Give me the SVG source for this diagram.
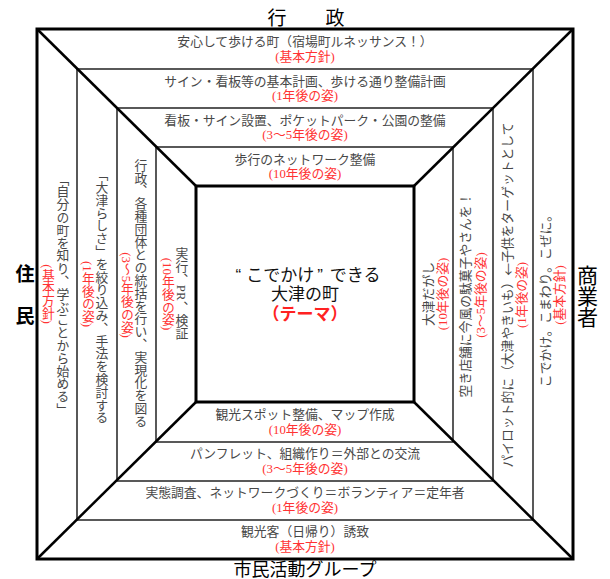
<svg xmlns="http://www.w3.org/2000/svg" width="610" height="579" viewBox="0 0 610 579">
<style>
text { dominant-baseline: central; text-anchor: middle; }
.g { font-family: "Liberation Sans", "Noto Sans CJK JP", sans-serif; font-size: 12.8px; fill: #484848; }
.r { font-family: "Liberation Serif", "Noto Sans CJK JP", serif; font-size: 12.8px; fill: #f33; }
.c { font-family: "Liberation Sans", "Noto Sans CJK JP", sans-serif; font-size: 17px; fill: #111; }
.cr { font-family: "Liberation Sans", "Noto Sans CJK JP", sans-serif; font-size: 17px; fill: #f22; font-weight: bold; }
.t { font-family: "Liberation Sans", "Noto Sans CJK JP", sans-serif; font-size: 19px; fill: #000; }
.v { writing-mode: vertical-rl; }
.cjk { font-family: "Noto Sans CJK JP", sans-serif; }
.lat { font-family: "Liberation Serif", serif; }
.thin { fill: none; stroke: #000; stroke-width: 1.3; }
.thick { fill: none; stroke: #000; stroke-width: 3; }
.diag { stroke: #000; stroke-width: 2.5; }
</style>
<rect width="610" height="579" fill="#fff"/>
<g id="frame">
  <rect class="thin" x="77" y="69" width="456" height="451"/>
  <rect class="thin" x="117" y="108" width="376" height="373"/>
  <rect class="thin" x="156" y="147" width="297" height="295"/>
</g>
<g id="connectors">
  <line class="diag" x1="37" y1="29" x2="196" y2="186"/>
  <line class="diag" x1="573" y1="29" x2="414" y2="186"/>
  <line class="diag" x1="37" y1="559" x2="196" y2="402"/>
  <line class="diag" x1="573" y1="559" x2="414" y2="402"/>
</g>
<g id="outer">
  <rect class="thick" x="37" y="29" width="536" height="530"/>
</g>
<g id="center">
  <rect class="thick" x="196" y="186" width="218" height="216"/>
  <text class="c" x="308" y="275">“<tspan dx="5">こでかけ</tspan><tspan dx="3">”</tspan><tspan dx="7">できる</tspan></text>
  <text class="c" x="305" y="294.5">大津の町</text>
  <text class="cr" x="305" y="314">（テーマ）</text>
</g>
<g id="title-top">
  <text class="t"><tspan x="277" y="18">行</tspan><tspan x="335" y="18">政</tspan></text>
</g>
<g id="title-bottom">
  <text class="t" style="font-size:18px" x="305" y="569.5">市民活動グループ</text>
</g>
<g id="title-left">
  <text class="t" font-weight="bold" x="25" y="274">住</text>
  <text class="t" font-weight="bold" x="25" y="316">民</text>
</g>
<g id="title-right">
  <text class="t v" style="font-size:21px" x="586" y="296">商業者</text>
</g>
<g id="top-1">
  <text class="g" x="305" y="41.5">安心して歩ける町（宿場町ルネッサンス！）</text>
  <text class="r" x="305" y="56.5">(基本方針)</text>
</g>
<g id="top-2">
  <text class="g" x="305" y="81">サイン・看板等の基本計画、歩ける通り整備計画</text>
  <text class="r" x="305" y="96">(1年後の姿)</text>
</g>
<g id="top-3">
  <text class="g" x="305" y="120">看板・サイン設置、ポケットパーク・公園の整備</text>
  <text class="r" x="305" y="135">(3～5年後の姿)</text>
</g>
<g id="top-4">
  <text class="g" x="305" y="159">歩行のネットワーク整備</text>
  <text class="r" x="305" y="174">(10年後の姿)</text>
</g>
<g id="bottom-4">
  <text class="g" x="305" y="414.5">観光スポット整備、マップ作成</text>
  <text class="r" x="305" y="429.5">(10年後の姿)</text>
</g>
<g id="bottom-3">
  <text class="g" x="305" y="453.5">パンフレット、組織作り＝外部との交流</text>
  <text class="r" x="305" y="468.5">(3～5年後の姿)</text>
</g>
<g id="bottom-2">
  <text class="g" x="305" y="492.5">実態調査、ネットワークづくり＝ボランティア＝定年者</text>
  <text class="r" x="305" y="507.5">(1年後の姿)</text>
</g>
<g id="bottom-1">
  <text class="g" x="305" y="531.5">観光客（日帰り）誘致</text>
  <text class="r" x="305" y="546.5">(基本方針)</text>
</g>
<g id="left-1">
  <text class="g v" x="62" y="294">「自分の町を知り、学ぶことから始める」</text>
  <text class="r v" x="47" y="294">(基本方針)</text>
</g>
<g id="left-2">
  <text class="g v" x="101" y="296">「大津らしさ」を絞り込み、手法を検討する</text>
  <text class="r v" x="87" y="294">(1年後の姿)</text>
</g>
<g id="left-3">
  <text class="g v" x="140" y="293">行政、各種団体との統括を行い、実現化を図る</text>
  <text class="r v" x="126" y="295">(3～5年後の姿)</text>
</g>
<g id="left-4">
  <text class="g v" x="181" y="293">実行、<tspan class="lat">PR</tspan>、検証</text>
  <text class="r v" x="167" y="294">(10年後の姿)</text>
</g>
<g id="right-4">
  <text class="g" transform="translate(428,294) rotate(-90)">大津だがし</text>
  <text class="r" transform="translate(443,294) rotate(-90)">(10年後の姿)</text>
</g>
<g id="right-3">
  <text class="g" transform="translate(465,295) rotate(-90)">空き店舗に今風の駄菓子やさんを！</text>
  <text class="r" transform="translate(481,295) rotate(-90)">(3～5年後の姿)</text>
</g>
<g id="right-2">
  <text class="g" transform="translate(507,295) rotate(-90)">パイロット的に（大津やきいも）<tspan class="cjk">←</tspan>子供をターゲットとして</text>
  <text class="r" transform="translate(522,295) rotate(-90)">(1年後の姿)</text>
</g>
<g id="right-1">
  <text class="g" transform="translate(545,298) rotate(-90)">こでかけ。こまわり。こぜに。</text>
  <text class="r" transform="translate(560,295) rotate(-90)">(基本方針)</text>
</g>
</svg>
